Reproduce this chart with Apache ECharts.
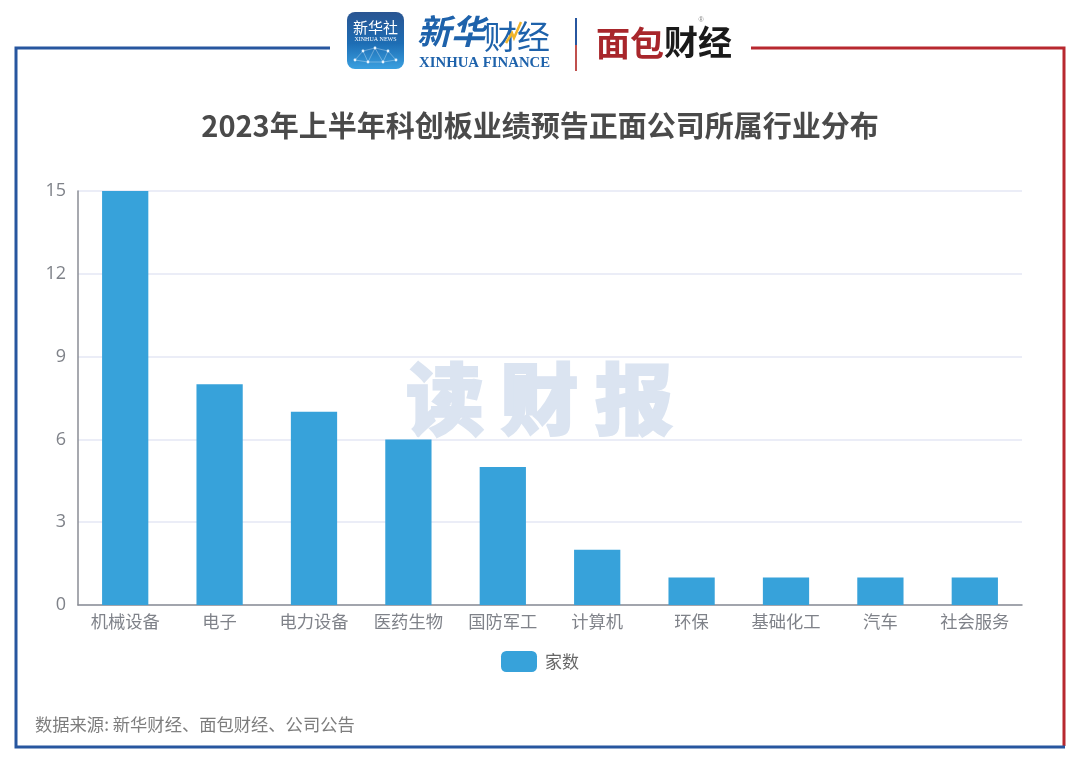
<!DOCTYPE html>
<html>
<head>
<meta charset="utf-8">
<style>
html, body { margin: 0; padding: 0; background: #fff; }
#chart { width: 1080px; height: 764px; }
</style>
<script src="https://cdn.jsdelivr.net/npm/echarts@6/dist/echarts.min.js"></script>
</head>
<body>
<div id="chart"></div>
<script>
const categories = ['机械设备', '电子', '电力设备', '医药生物', '国防军工', '计算机', '环保', '基础化工', '汽车', '社会服务']
const companyCounts = [15, 8, 7, 6, 5, 2, 1, 1, 1, 1]
const seriesName = '家数'
const titleText = '2023年上半年科创板业绩预告正面公司所属行业分布'
const sourceText = '数据来源: 新华财经、面包财经、公司公告'

const cjk = '"Noto Sans CJK SC", sans-serif'
const blue = '#27569f'
const red = '#b8282f'

const chart = echarts.init(document.getElementById('chart'))

// frame around the chart, open at the top for the logos
const frame = [
    { type: 'polyline', z: 5, shape: { points: [[751, 48], [1064, 48], [1064, 746]] }, style: { fill: null, stroke: red, lineWidth: 3 } },
    { type: 'polyline', z: 5, shape: { points: [[330, 48], [16, 48], [16, 747], [1065, 747]] }, style: { fill: null, stroke: blue, lineWidth: 3 } }
]

// little network in the bottom of the xinhua news icon
const netDots = [[355, 60], [363, 51], [375, 48], [388, 51], [396, 60], [368, 62], [383, 62]]
const netLines = [[0, 1], [1, 2], [2, 3], [3, 4], [1, 5], [2, 5], [2, 6], [3, 6], [5, 6], [0, 5], [4, 6]]

const logos = [
    {
        type: 'rect', shape: { x: 347, y: 12, width: 57, height: 57, r: 8 },
        style: { fill: new echarts.graphic.LinearGradient(0, 0, 0, 1, [
            { offset: 0, color: '#2a5592' }, { offset: 0.55, color: '#1d6db4' }, { offset: 1, color: '#3aa0e0' }
        ]) }
    },
    ...netLines.map(([a, b]) => ({
        type: 'line',
        shape: { x1: netDots[a][0], y1: netDots[a][1], x2: netDots[b][0], y2: netDots[b][1] },
        style: { stroke: 'rgba(255,255,255,0.45)', lineWidth: 0.7 }
    })),
    ...netDots.map(d => ({ type: 'circle', shape: { cx: d[0], cy: d[1], r: 1.4 }, style: { fill: '#e8f4ff' } })),
    { type: 'text', style: { x: 375.5, y: 27, text: '新华社', fill: '#fff', font: '15px ' + cjk, align: 'center', verticalAlign: 'middle' } },
    { type: 'text', style: { x: 375.5, y: 39, text: 'XINHUA NEWS', fill: '#fff', font: '6px "Liberation Serif"', align: 'center', verticalAlign: 'middle' } },
    { type: 'text', style: { x: 417, y: 31, text: '新华', fill: '#1e62ab', font: 'italic bold 34px ' + cjk, verticalAlign: 'middle' } },
    { type: 'text', style: { x: 484, y: 36, text: '财经', fill: '#1e62ab', font: '33px ' + cjk, verticalAlign: 'middle' } },
    { type: 'polyline', shape: { points: [[506, 43], [512, 33], [514, 38], [521, 22]] }, style: { fill: null, stroke: '#f0b429', lineWidth: 2.5 } },
    { type: 'text', style: { x: 419, y: 63, text: 'XINHUA FINANCE', fill: '#1e62ab', font: 'bold 14.8px "Liberation Serif"', verticalAlign: 'middle' } },
    { type: 'rect', shape: { x: 575, y: 18, width: 2, height: 27 }, style: { fill: '#27569f' } },
    { type: 'rect', shape: { x: 575, y: 45, width: 2, height: 26 }, style: { fill: '#c0504d' } },
    { type: 'text', style: { x: 596, y: 43, text: '面包', fill: '#a8262b', font: 'bold 34px ' + cjk, verticalAlign: 'middle' } },
    { type: 'text', style: { x: 664, y: 42, text: '财经', fill: '#1a1a1a', font: 'bold 34px ' + cjk, verticalAlign: 'middle' } },
    { type: 'text', style: { x: 701, y: 20, text: '®', fill: '#888', font: '7px "Liberation Sans"', align: 'center', verticalAlign: 'middle' } }
]

const watermark = ['读', '财', '报'].map((ch, i) => ({
    type: 'text',
    z: 10,
    style: { x: 445 + i * 94.5, y: 399, text: ch, fill: '#dbe4f1', stroke: '#dbe4f1', lineWidth: 2, font: '900 78px ' + cjk, align: 'center', verticalAlign: 'middle' }
}))

chart.setOption({
    animation: false,
    backgroundColor: '#fff',
    title: {
        text: titleText,
        left: 535,
        top: 106,
        textAlign: 'center',
        textStyle: { color: '#4a4a4a', fontSize: 29, fontWeight: 'bold', fontFamily: cjk }
    },
    legend: {
        data: [seriesName],
        left: 501,
        top: 651,
        padding: 0,
        itemWidth: 36,
        itemHeight: 21,
        itemGap: 8,
        textStyle: { color: '#666', fontSize: 17, fontFamily: cjk, padding: [0, 0, 0, 3] }
    },
    grid: { left: 78, right: 58, top: 191, bottom: 159 },
    xAxis: {
        type: 'category',
        data: categories,
        axisLine: { lineStyle: { color: '#8a8d95', width: 1.5 } },
        axisTick: { length: 6, lineStyle: { color: '#8a8d95', width: 1.5 } },
        axisLabel: { color: '#7f8289', fontSize: 17.3, margin: 8, interval: 0, fontFamily: cjk }
    },
    yAxis: {
        type: 'value',
        min: 0,
        max: 15,
        interval: 3,
        axisLine: { show: true, lineStyle: { color: '#8a8d95', width: 1.5 } },
        axisTick: { show: false },
        axisLabel: { color: '#7f8289', fontSize: 18, margin: 12, fontFamily: 'Open Sans' },
        splitLine: { lineStyle: { color: '#e4e7f4', width: 1.5 } }
    },
    series: [{
        name: seriesName,
        type: 'bar',
        data: companyCounts,
        barWidth: '49%',
        itemStyle: { color: '#37a2da' }
    }],
    graphic: {
        elements: [
            ...frame,
            ...logos,
            ...watermark,
            { type: 'text', style: { x: 35, y: 724, text: sourceText, fill: '#7d7d7d', font: '17.3px ' + cjk, verticalAlign: 'middle' } }
        ]
    }
})
</script>
</body>
</html>
